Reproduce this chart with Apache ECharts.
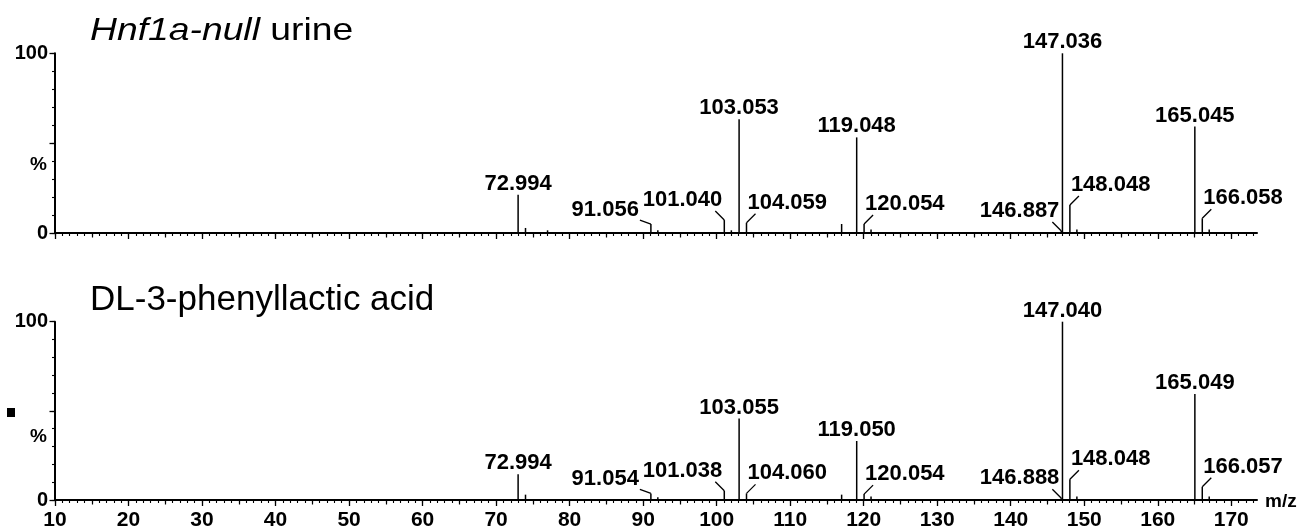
<!DOCTYPE html>
<html><head><meta charset="utf-8">
<script src="https://cdn.jsdelivr.net/npm/echarts@6/dist/echarts.min.js"></script>
<style>html,body{margin:0;padding:0;background:#fff}#c{width:1302px;height:531px}</style>
</head><body><div id="c"></div>
<script>
// ---- data ----
const xTickLabels = [10, 20, 30, 40, 50, 60, 70, 80, 90, 100, 110, 120, 130, 140, 150, 160, 170];
const yTickLabels = [0, 100];

const topTitle = 'Hnf1a-null urine';
const topMz        = [72.994, 74.0, 77.0, 91.056, 92.0, 101.040, 102.0, 103.053, 104.059, 117.0, 119.048, 120.054, 121.0, 146.887, 147.036, 148.048, 149.0, 165.045, 166.058, 167.0];
const topIntensity = [21.3,   2.8,  1.5,  5.0,    1.5,  7.2,     1.5,   63.3,    5.7,     5.0,   53.2,    5.0,     2.0,   1.1,     100,     15.6,    2.0,   59.2,    8.2,     2.0];
const topLabels    = ['72.994','','','91.056','','101.040','','103.053','104.059','','119.048','120.054','','146.887','147.036','148.048','','165.045','166.058',''];
const topLabelSide = ['top','','','farLeft','','left','','top','right','','top','right','','left','top','right','','top','right',''];

const botTitle = 'DL-3-phenyllactic acid';
const botMz        = [72.994, 74.0, 91.054, 92.0, 101.038, 103.055, 104.060, 117.0, 119.050, 120.054, 121.0, 146.888, 147.040, 148.048, 149.0, 165.049, 166.057, 167.0];
const botIntensity = [14.4,   3.0,  3.7,    1.5,  5.2,     45.7,    3.7,     3.0,   33.1,    3.3,     2.0,   1.0,     100,     11.6,    2.0,   59.5,    7.4,     2.0];
const botLabels    = ['72.994','','91.054','','101.038','103.055','104.060','','119.050','120.054','','146.888','147.040','148.048','','165.049','166.057',''];
const botLabelSide = ['top','','farLeft','','left','top','right','','top','right','','left','top','right','','top','right',''];

// ---- chart ----
const FONT = '"Liberation Sans", Arial, Helvetica, sans-serif';
const X_MIN = 10, X_MAX = 173.5;
const minorTicks = [], midTicks = [];
for (let v = X_MIN; v <= 173; v++) minorTicks.push(v);
for (let v = 15; v <= 173; v += 10) midTicks.push(v);

function makeRender(labels, sides) {
  return function (params, api) {
    const mz = api.value(0), inten = api.value(1);
    const i = params.dataIndex;
    const b = api.coord([mz, 0]);
    const t = api.coord([mz, inten]);
    const children = [{
      type: 'line', shape: { x1: b[0], y1: b[1], x2: t[0], y2: t[1] },
      style: { stroke: '#000', lineWidth: 1.5 }
    }];
    const lab = labels[i], side = sides[i];
    const ts = { fill: '#000', fontSize: 22, fontWeight: 'bold', fontFamily: FONT, text: lab };
    if (lab) {
      let tx, ty, al;
      if (side === 'top') { tx = t[0]; ty = t[1]; al = 'center'; }
      else if (side === 'right') {
        children.push({ type: 'line', shape: { x1: t[0], y1: t[1], x2: t[0] + 9, y2: t[1] - 9 }, style: { stroke: '#000', lineWidth: 1.3 } });
        tx = t[0] + 1; ty = t[1] - 9; al = 'left';
      } else if (side === 'left') {
        children.push({ type: 'line', shape: { x1: t[0], y1: t[1], x2: t[0] - 9, y2: t[1] - 9 }, style: { stroke: '#000', lineWidth: 1.3 } });
        tx = t[0] - 2; ty = t[1] - 9; al = 'right';
      } else {
        children.push({ type: 'line', shape: { x1: t[0], y1: t[1], x2: t[0] - 11, y2: t[1] - 4 }, style: { stroke: '#000', lineWidth: 1.3 } });
        tx = t[0] - 12; ty = t[1] - 3; al = 'right';
      }
      Object.assign(ts, { x: tx, y: ty, align: al, textAlign: al, verticalAlign: 'bottom', textVerticalAlign: 'bottom' });
      children.push({ type: 'text', style: ts });
    }
    return { type: 'group', children };
  };
}

function xAxes(grid, withLabels) {
  const common = { type: 'value', gridIndex: grid, min: X_MIN, max: X_MAX, position: 'bottom', splitLine: { show: false } };
  return [
    Object.assign({}, common, {
      axisLine: { show: true, lineStyle: { color: '#000', width: 2 } },
      axisTick: { show: true, length: 6, customValues: xTickLabels, lineStyle: { color: '#000', width: 1.3 } },
      axisLabel: withLabels ? { show: true, customValues: xTickLabels, color: '#000', fontSize: 21, fontWeight: 'bold', fontFamily: FONT, margin: 10 } : { show: false }
    }),
    Object.assign({}, common, {
      axisLine: { show: false },
      axisTick: { show: true, length: 4.5, customValues: midTicks, lineStyle: { color: '#000', width: 1.2 } },
      axisLabel: { show: false }
    }),
    Object.assign({}, common, {
      axisLine: { show: false },
      axisTick: { show: true, length: 3, customValues: minorTicks, lineStyle: { color: '#000', width: 1.1 } },
      axisLabel: { show: false }
    })
  ];
}
function yAxes(grid) {
  const common = { type: 'value', gridIndex: grid, min: 0, max: 100, position: 'left', splitLine: { show: false } };
  return [
    Object.assign({}, common, {
      interval: 50,
      axisLine: { show: true, lineStyle: { color: '#000', width: 2 } },
      axisTick: { show: true, length: 5.5, lineStyle: { color: '#000', width: 1.3 } },
      axisLabel: { show: true, customValues: yTickLabels, color: '#000', fontSize: 20, fontWeight: 'bold', fontFamily: FONT, margin: 7 }
    }),
    Object.assign({}, common, {
      interval: 10,
      axisLine: { show: false },
      axisTick: { show: true, length: 3, lineStyle: { color: '#000', width: 1.1 } },
      axisLabel: { show: false }
    })
  ];
}

const chart = echarts.init(document.getElementById('c'), null, { renderer: 'canvas' });
chart.setOption({
  animation: false,
  backgroundColor: '#fff',
  grid: [
    { left: 55, top: 53.3, width: 1202, height: 179.7 },
    { left: 55, top: 321.7, width: 1202, height: 181 }
  ],
  xAxis: xAxes(0, false).concat(xAxes(1, true)),
  yAxis: yAxes(0).concat(yAxes(1)),
  series: [
    { type: 'custom', xAxisIndex: 0, yAxisIndex: 0, renderItem: makeRender(topLabels, topLabelSide),
      data: topMz.map((m, i) => [m, topIntensity[i]]), clip: false },
    { type: 'custom', xAxisIndex: 3, yAxisIndex: 2, renderItem: makeRender(botLabels, botLabelSide),
      data: botMz.map((m, i) => [m, botIntensity[i]]), clip: false }
  ],
  graphic: [
    { type: 'text', x: 90, y: 31.5, scaleX: 1.165, scaleY: 1,
      style: { text: '{i|Hnf1a-null} urine', x: 0, y: 0, fill: '#000', fontSize: 32, fontFamily: FONT,
        textVerticalAlign: 'middle', verticalAlign: 'middle',
        rich: { i: { fontStyle: 'italic', fontSize: 32, fontFamily: FONT, fill: '#000' } } } },
    { type: 'text', x: 90, y: 300.7,
      style: { text: botTitle, x: 0, y: 0, fill: '#000', fontSize: 35, fontFamily: FONT, textVerticalAlign: 'middle', verticalAlign: 'middle' } },
    { type: 'text', x: 47, y: 165,
      style: { text: '%', x: 0, y: 0, fill: '#000', fontSize: 19, fontWeight: 'bold', fontFamily: FONT, textAlign: 'right', align: 'right', textVerticalAlign: 'middle', verticalAlign: 'middle' } },
    { type: 'text', x: 47, y: 436.7,
      style: { text: '%', x: 0, y: 0, fill: '#000', fontSize: 19, fontWeight: 'bold', fontFamily: FONT, textAlign: 'right', align: 'right', textVerticalAlign: 'middle', verticalAlign: 'middle' } },
    { type: 'text', x: 1265, y: 501.5,
      style: { text: 'm/z', x: 0, y: 0, fill: '#000', fontSize: 19, fontWeight: 'bold', fontFamily: FONT, textVerticalAlign: 'middle', verticalAlign: 'middle' } },
    { type: 'rect', shape: { x: 7, y: 408, width: 8, height: 9 }, style: { fill: '#000' } }
  ]
});
</script>
</body></html>
